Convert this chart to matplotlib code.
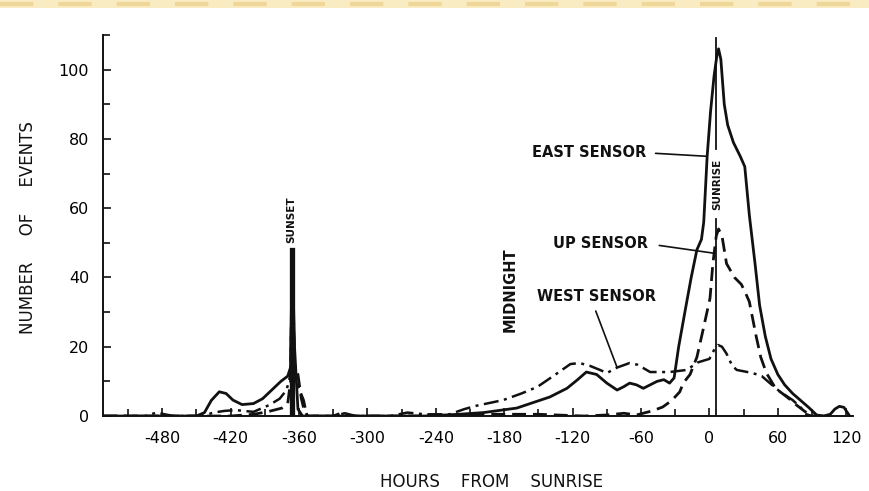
import matplotlib.pyplot as plt
from matplotlib.lines import Line2D
from matplotlib.patches import Rectangle
from matplotlib.ticker import MultipleLocator

# values (x = hours from sunrise, y = number of events)
east_x = [-532, -450, -443, -437, -430, -424, -418, -410, -400, -392, -384, -376, -370, -367.5,
          -366, -364, -361, -357, -250, -220, -198, -169, -140, -125, -116, -108, -99, -90, -81,
          -75, -70, -64, -58, -52, -46, -40, -35, -31, -27, -21, -16, -11, -7, -5, -2, 1, 4,
          6.5, 8, 10, 13, 16, 21, 27, 31, 35, 40, 44, 49, 54, 60, 66, 73, 80, 87, 94, 100,
          106, 110, 114, 118, 121, 123]
east_y = [0, 0, 1, 4.5, 7, 6.5, 4.6, 3.3, 3.6, 5, 7.5, 10, 11.5, 14,
          48, 20, 2, 0, 0, 0.5, 1, 2.3, 5.5, 8, 10.4, 12.7, 12, 9.5, 7.5,
          8.5, 9.5, 9, 8, 9, 10, 10.5, 9.5, 11, 20, 31, 40, 48, 51, 56, 75, 88, 98,
          104, 106, 103, 90, 84, 79, 75, 72, 58, 44, 32, 23, 16.5, 12, 9, 6.5, 4.5, 2.5, 0.3, 0,
          0.5, 2, 2.8, 2.5, 1, 0]

up_x = [-532, -420, -400, -388, -375, -370, -367.5, -366, -364, -361, -358, -355, -352,
        -330, -322, -314, -300, -240, -200, -150, -110, -90, -75, -64, -50, -41, -33, -26,
        -23, -17, -11, -5.5, 0.5, 3, 6, 8, 11, 15, 22, 28, 31, 35, 41, 45, 50, 58, 68, 77,
        85, 90, 100]
up_y = [0, 0, 0.5, 1.2, 2.3, 3.5, 10, 47, 15, 12, 5, 1, 0,
        0, 1, 0, 0, 0, 0.5, 0.5, 0, 0.3, 0.8, 0.3, 1.5, 2.6, 4.5, 7,
        9.5, 12, 17, 25, 34, 44, 52, 54, 52, 44, 40, 38, 36, 33, 23, 17, 12.4, 8, 5.5, 3,
        1, 0, 0]

west_x = [-532, -495, -485, -478, -470, -445, -435, -425, -415, -400, -386, -377, -371, -367.5,
          -366, -364, -362, -356, -353, -330, -320, -310, -280, -265, -250, -228, -215, -204,
          -181, -165, -151, -135, -122, -114, -105, -96, -90, -81, -70, -63, -52, -45, -35,
          -20, -10, 0, 4, 7.6, 11, 15, 20, 24, 38, 46, 53, 62, 73, 80, 85, 90, 100]
west_y = [0, 0, 1, 0.5, 0, 0, 1, 1.5, 1.7, 1.2, 3.2, 5, 7.5, 12,
          46, 15, 9.5, 4.6, 0, 0, 0.8, 0, 0, 1, 0.5, 0.5, 2, 3,
          4.6, 6.5, 8.4, 12, 15, 15.3, 14.5, 13.3, 12.4, 14, 15.3, 14.8, 12.7, 12.7, 12.7,
          13.3, 15.5, 16.5, 19, 20.5, 20, 18, 14.5, 13.3, 12.4, 11.5, 9.5, 7, 4.6, 2.5, 0.5, 0, 0]

x_ticks = [-480, -420, -360, -300, -240, -180, -120, -60, 0, 60, 120]
x_labels = ['-480', '-420', '-360', '-300', '-240', '-180', '-120', '-60', '0', '60', '120']
y_ticks = [0, 20, 40, 60, 80, 100]

sunrise_x = 6
sunset_x = -366
sunset_top = 48

ink = '#111111'

fig = plt.figure(figsize=(8.7, 4.91), dpi=100)

# yellowish strip along the top edge of the scan
fig.patches.append(Rectangle((0, 1 - 8 / 491), 1, 8 / 491, transform=fig.transFigure,
                             facecolor='#f9ebc2', edgecolor='none', zorder=0))
fig.lines.append(Line2D([0, 1], [1 - 4 / 491, 1 - 4 / 491], transform=fig.transFigure,
                        color='#efd79a', lw=3, dashes=(8, 6)))

ax = fig.add_axes([0.1184, 0.1527, 0.870, 0.776])

ax.plot(east_x, east_y, color=ink, lw=2.0, solid_joinstyle='round')
ax.plot(up_x, up_y, color=ink, lw=2.0, dashes=(5, 2.5))
ax.plot(west_x, west_y, color=ink, lw=1.8, dashes=(6, 2.2, 1.2, 2.2))

# sunrise / sunset markers
ax.plot([sunrise_x, sunrise_x], [0, 57], color=ink, lw=1.3)
ax.plot([sunrise_x, sunrise_x], [77, 109], color=ink, lw=1.3, clip_on=False)
ax.plot([sunset_x, sunset_x], [0, sunset_top], color=ink, lw=3.8)

ax.set_xlim(-532, 132)
ax.set_ylim(0, 110)
ax.spines['top'].set_visible(False)
ax.spines['right'].set_visible(False)
ax.spines['bottom'].set_bounds(-532, 126)
for s in ['left', 'bottom']:
    ax.spines[s].set_linewidth(1.4)
    ax.spines[s].set_color(ink)

ax.set_xticks(x_ticks)
ax.set_xticklabels(x_labels)
ax.xaxis.set_minor_locator(MultipleLocator(30))
ax.set_yticks(y_ticks)
ax.yaxis.set_minor_locator(MultipleLocator(10))
ax.tick_params(which='both', direction='in', color=ink, width=1.2)
ax.tick_params(which='major', length=6)
ax.tick_params(which='minor', length=5)
ax.tick_params(axis='x', which='major', pad=11, labelsize=11.5)
ax.tick_params(axis='y', which='major', pad=10, labelsize=11.5)

fig.text(491 / 870, 1 - 482 / 491, 'HOURS    FROM    SUNRISE', ha='center', va='center',
         fontsize=12, color=ink)
fig.text(28 / 870, 1 - 228 / 491, 'NUMBER     OF     EVENTS', ha='center', va='center',
         rotation=90, fontsize=12, color=ink)

bold = dict(fontsize=10.5, fontweight='bold', color=ink)
ax.annotate('EAST SENSOR', xy=(-3, 75), xytext=(-156, 76), ha='left', va='center',
            arrowprops=dict(arrowstyle='-', lw=1.2, color=ink, relpos=(1, 0.5),
                            shrinkA=5, shrinkB=0), **bold)
ax.annotate('UP SENSOR', xy=(4, 47), xytext=(-137, 49.7), ha='left', va='center',
            arrowprops=dict(arrowstyle='-', lw=1.2, color=ink, relpos=(1, 0.5),
                            shrinkA=6, shrinkB=0), **bold)
ax.annotate('WEST SENSOR', xy=(-81, 14), xytext=(-151, 34.4), ha='left', va='center',
            arrowprops=dict(arrowstyle='-', lw=1.2, color=ink, relpos=(0.47, 0),
                            shrinkA=3, shrinkB=0), **bold)
ax.text(-175, 36.4, 'MIDNIGHT', rotation=90, ha='center', va='center', **bold)
ax.text(sunset_x - 1, 56.6, 'SUNSET', rotation=90, ha='center', va='center',
        fontsize=7.5, fontweight='bold', color=ink)
ax.text(sunrise_x + 1, 67, 'SUNRISE', rotation=90, ha='center', va='center',
        fontsize=7.5, fontweight='bold', color=ink)

fig.savefig('out.png', dpi=100)
